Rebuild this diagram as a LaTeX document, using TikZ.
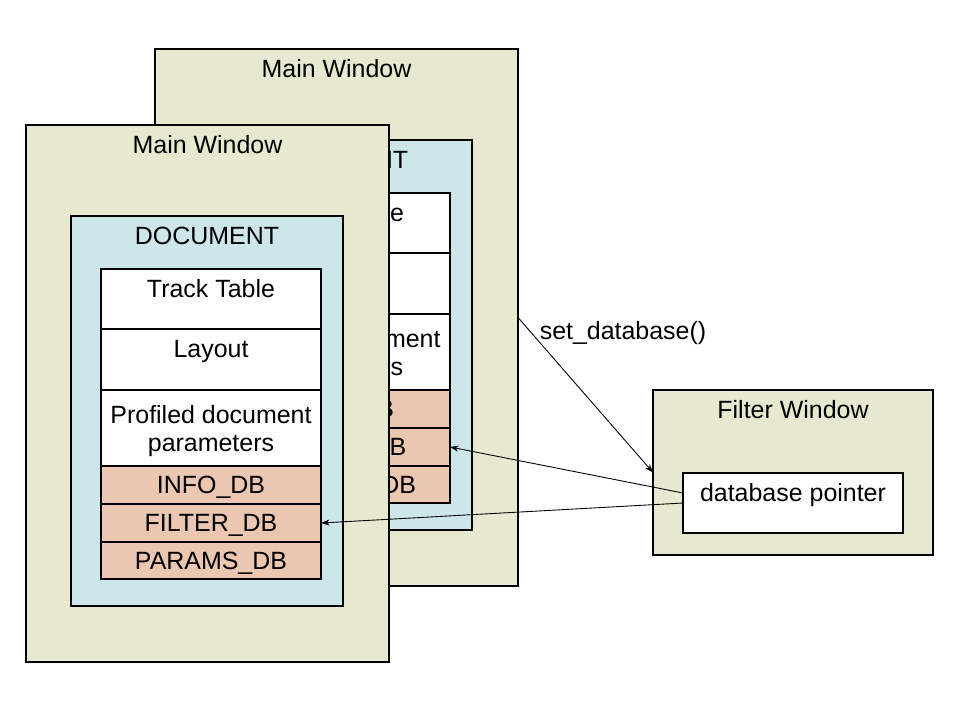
\documentclass[tikz,border=0pt]{standalone}
\usepackage{fontspec}
\setmainfont{Liberation Sans}
\usepackage{tikz}
\usetikzlibrary{arrows.meta}
\usetikzlibrary{calc}
\usetikzlibrary{positioning}

\definecolor{winfill}{HTML}{E6E9D0}
\definecolor{docfill}{HTML}{CDE6EA}
\definecolor{dbfill}{HTML}{EBC6B0}

\tikzset{
  box/.style={draw, line width=0.6pt, outer sep=0pt, inner sep=0pt, anchor=north west},
  win/.style={box, fill=winfill},
  doc/.style={box, fill=docfill},
  row/.style={box, fill=white, minimum width=4.4cm},
  dbrow/.style={row, fill=dbfill},
  ttl/.style={anchor=north, inner sep=0pt, align=center, text height=.75em,
    font=\fontsize{14.2}{16}\selectfont},
  call/.style={-{Stealth[length=1.7mm,width=1.2mm]}, line width=0.5pt}
}

\begin{document}
\begin{tikzpicture}
        \useasboundingbox (0,0) rectangle (19.2,-14.4);

        % back copy first, then the front one on top
        \foreach \w/\sx/\sy in {B/2.58/1.52, A/0/0} {
        \begin{scope}[shift={(\sx,\sy)}]
        \node[win, minimum width=7.26cm, minimum height=10.74cm] (main\w) at
        (0.52,-2.5) {}; \node[ttl] (maint\w) at ($(main\w.north) + (0,-0.3)$)
        {Main Window};

        \node[doc, minimum width=5.44cm, minimum height=7.8cm] (doc\w) at
        (1.42,-4.32) {}; \node[ttl] (doct\w) at ($(doc\w.north) + (0,-0.3)$)
        {DOCUMENT};

        \node[row, minimum height=1.2cm] (track\w) at (2.02,-5.38) {};
        \node[row, minimum height=1.22cm, below=0pt of track\w] (lay\w) {};
        \node[row, minimum height=1.52cm, below=0pt of lay\w] (prof\w) {};
        \node[dbrow, minimum height=0.76cm, below=0pt of prof\w] (info\w) {};
        \node[dbrow, minimum height=0.76cm, below=0pt of info\w] (fdb\w) {};
        \node[dbrow, minimum height=0.74cm, below=0pt of fdb\w] (par\w) {};

        \node[ttl] (trackt\w) at ($(track\w.north) + (0,-0.3)$) {Track Table};
        \node[ttl] (layt\w) at ($(lay\w.north) + (0,-0.3)$) {Layout};
        \node[ttl, text height={}] (proft\w) at ($(prof\w.north) + (0,-0.3)$)
        {Profiled document\\parameters};
        \node[ttl] (infot\w) at ($(info\w.north) + (0,-0.27)$) {INFO\_DB};
        \node[ttl] (fdbt\w) at ($(fdb\w.north) + (0,-0.27)$) {FILTER\_DB};
        \node[ttl] (part\w) at ($(par\w.north) + (0,-0.27)$) {PARAMS\_DB};
        \end{scope}
        }

        \node[win, minimum width=5.6cm, minimum height=3.3cm] (filt) at
        (13.06,-7.8) {}; \node[ttl] (filtt) at ($(filt.north) + (0,-0.3)$)
        {Filter Window};

        \node[row, minimum height=1.2cm] (ptr) at (13.66,-9.46) {};
        \node[ttl] (ptrt) at ($(ptr.north) + (0,-0.3)$) {database pointer};

        \draw[call] (mainB.east) -- (filt.west);
        \node[ttl, anchor=center] (setdb) at (12.46,-6.7) {set\_database()};

        \draw[call] ($(ptr.west) + (0,0.2)$) -- (fdbB.east);
        \draw[call] (ptr.west) -- (fdbA.east);
\end{tikzpicture}
\end{document}
